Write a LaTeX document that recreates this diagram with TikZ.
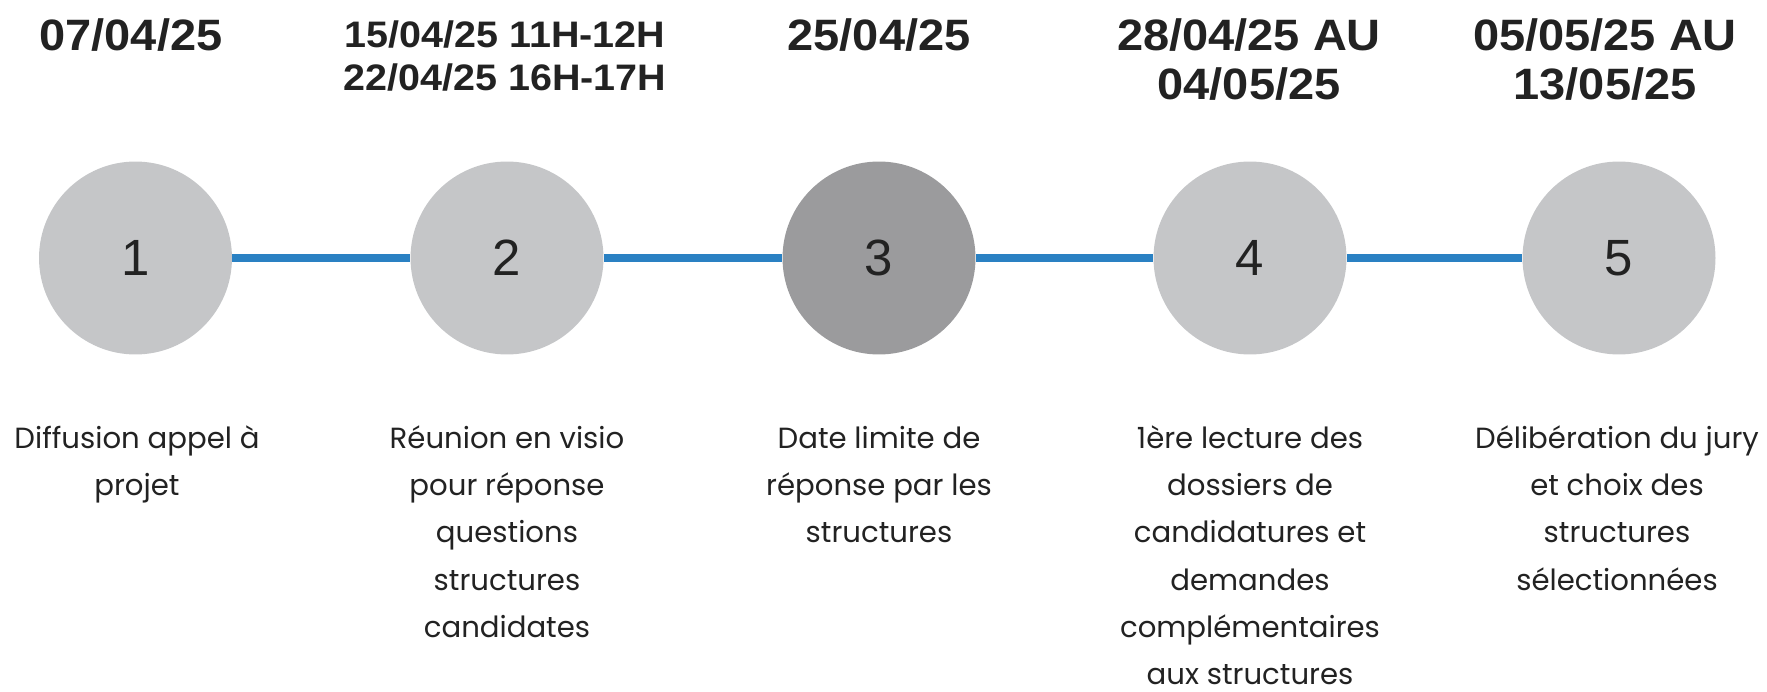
\documentclass[tikz,border=0pt]{standalone}
\usepackage{fontspec}
\setmainfont{Poppins}
\newfontfamily\datefont[FakeStretch=1.07]{Liberation Sans}
\newfontfamily\numfont{Liberation Sans}
\definecolor{gris}{HTML}{C5C6C8}
\definecolor{grisfonce}{HTML}{9B9B9D}
\definecolor{bleu}{HTML}{2A81C3}
\definecolor{encre}{HTML}{222222}
\tikzset{
  etape/.style={circle, fill=gris, inner sep=0pt, minimum size=3.86cm,
    text=encre, font=\numfont\fontsize{29}{30}\selectfont},
  date/.style={anchor=north, inner sep=0pt, align=center, text=encre,
    font=\datefont\bfseries\fontsize{25}{28}\selectfont},
  petitedate/.style={date, font=\datefont\bfseries\fontsize{21}{24.5}\selectfont},
  texte/.style={anchor=north, inner sep=0pt, align=center, text=encre,
    font=\fontsize{16.6}{26.9}\selectfont},
  frise/.style={draw=bleu, line width=4.5pt}
}
\newcommand\hautdate{\rule{0pt}{20pt}}
\newcommand\hautpetite{\rule{0pt}{17pt}}
\begin{document}
\begin{tikzpicture}[x=0.02cm, y=-0.02cm]
	\useasboundingbox (0,0) rectangle (1767,692);
	\node[etape] (e1) at (135.5,258) {1};
	\node[etape] (e2) at (507,258) {2};
	\node[etape, fill=grisfonce] (e3) at (879,258) {3};
	\node[etape] (e4) at (1250,258) {4};
	\node[etape] (e5) at (1619,258) {5};
	\draw[frise] (e1)--(e2) (e2)--(e3) (e3)--(e4) (e4)--(e5);
	\node[date] (d1) at (131,14.7) {\hautdate 07/04/25};
	\node[petitedate] (d2) at (505,17.5) {\hautpetite 15/04/25 11H-12H\\22/04/25 16H-17H};
	\node[date] (d3) at (879,14.7) {\hautdate 25/04/25};
	\node[date] (d4) at (1249,14.7) {\hautdate 28/04/25 AU\\04/05/25};
	\node[date] (d5) at (1605,14.7) {\hautdate 05/05/25 AU\\13/05/25};
	\node[texte] (t1) at (137,414.8) {\strut Diffusion appel à\\projet};
	\node[texte] (t2) at (507,414.8) {\strut Réunion en visio\\pour réponse\\questions\\structures\\candidates};
	\node[texte] (t3) at (879,414.8) {\strut Date limite de\\réponse par les\\structures};
	\node[texte] (t4) at (1250,414.8) {\strut 1ère lecture des\\dossiers de\\candidatures et\\demandes\\complémentaires\\aux structures};
	\node[texte] (t5) at (1617,414.8) {\strut Délibération du jury\\et choix des\\structures\\sélectionnées};
\end{tikzpicture}
\end{document}
